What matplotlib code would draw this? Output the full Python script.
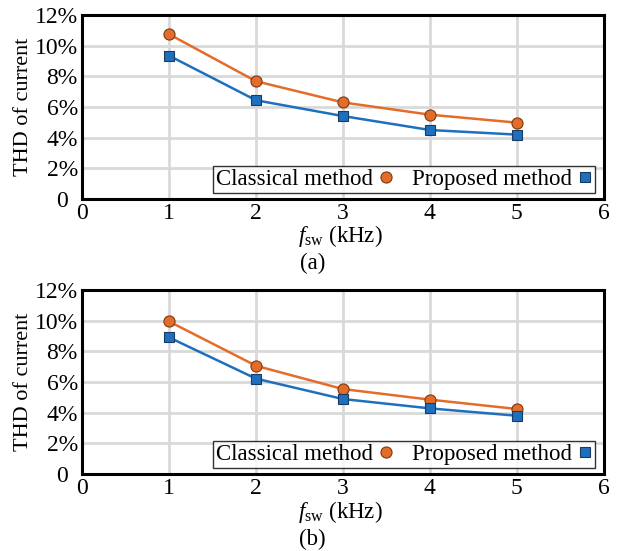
import numpy as np
import matplotlib
matplotlib.use("Agg")
import matplotlib.pyplot as plt
import matplotlib.transforms as mtransforms

plt.rcParams['font.family'] = 'Liberation Serif'
plt.rcParams['mathtext.fontset'] = 'custom'
plt.rcParams['mathtext.rm'] = 'Liberation Serif'
plt.rcParams['mathtext.it'] = 'Liberation Serif:italic'

fsw = [1, 2, 3, 4, 5]
classical_a = [10.75, 7.68, 6.3, 5.5, 4.98]
proposed_a = [9.35, 6.44, 5.41, 4.5, 4.2]
classical_b = [9.95, 7.06, 5.54, 4.85, 4.24]
proposed_b = [8.91, 6.22, 4.89, 4.28, 3.8]

xticks = [0, 1, 2, 3, 4, 5, 6]
yticks = [0, 2, 4, 6, 8, 10, 12]
ylabels = ['0', '2%', '4%', '6%', '8%', '10%', '12%']

ORANGE = '#E46C2A'
BLUE = '#1F6FBF'


def draw(ax, classical, proposed, caption, ycap):
	ax.plot(fsw, classical, '-o', color=ORANGE, lw=1.8, ms=8,
		mfc=ORANGE, mec='#7a3a10', mew=0.8, label='Classical method', zorder=3)
	ax.plot(fsw, proposed, '-s', color=BLUE, lw=1.8, ms=7,
		mfc=BLUE, mec='#1a3a60', mew=0.8, label='Proposed method', zorder=3)
	ax.set_xlim(0, 6)
	ax.set_ylim(0, 12)
	ax.set_xticks(xticks)
	ax.set_yticks(yticks)
	ax.set_yticklabels(ylabels)
	ax.tick_params(length=0, labelsize=17, pad=3)
	# shift the y "0" left so it clears the x "0"
	lab0 = ax.get_yticklabels()[0]
	lab0.set_transform(lab0.get_transform() + mtransforms.ScaledTranslation(-10 / 100, 0, fig.dpi_scale_trans))
	ax.grid(True, color='#d9d9d9', lw=2)
	ax.set_axisbelow(True)
	for s in ax.spines.values():
		s.set_linewidth(2.2)
		s.set_color('black')
	ax.set_ylabel('THD of current', fontsize=16, labelpad=1)
	leg = ax.legend(loc='lower right', bbox_to_anchor=(0.983, 0.033), ncol=2,
		markerfirst=False, fontsize=16.5, frameon=True, fancybox=False,
		borderaxespad=0, handlelength=0.6, handletextpad=0.3,
		columnspacing=0.8, borderpad=0.12)
	leg.get_frame().set_edgecolor('black')
	leg.get_frame().set_linewidth(1.0)
	for h in leg.legend_handles:
		h.set_linestyle('none')
	fig.text(0.55, ycap[0], r'$f_{\mathrm{sw}}$ (kHz)', ha='center', va='center', fontsize=16.5)
	fig.text(0.505, ycap[1], caption, ha='center', va='center', fontsize=16.5)


fig = plt.figure(figsize=(6.19, 5.51), dpi=100)
ax1 = fig.add_axes([0.1325, 0.6388, 0.843, 0.334])
ax2 = fig.add_axes([0.1325, 0.1397, 0.843, 0.334])

draw(ax1, classical_a, proposed_a, '(a)', (1 - 236 / 551, 1 - 263 / 551))
draw(ax2, classical_b, proposed_b, '(b)', (1 - 512 / 551, 1 - 539 / 551))

fig.savefig('out.png', dpi=100, facecolor='white')
